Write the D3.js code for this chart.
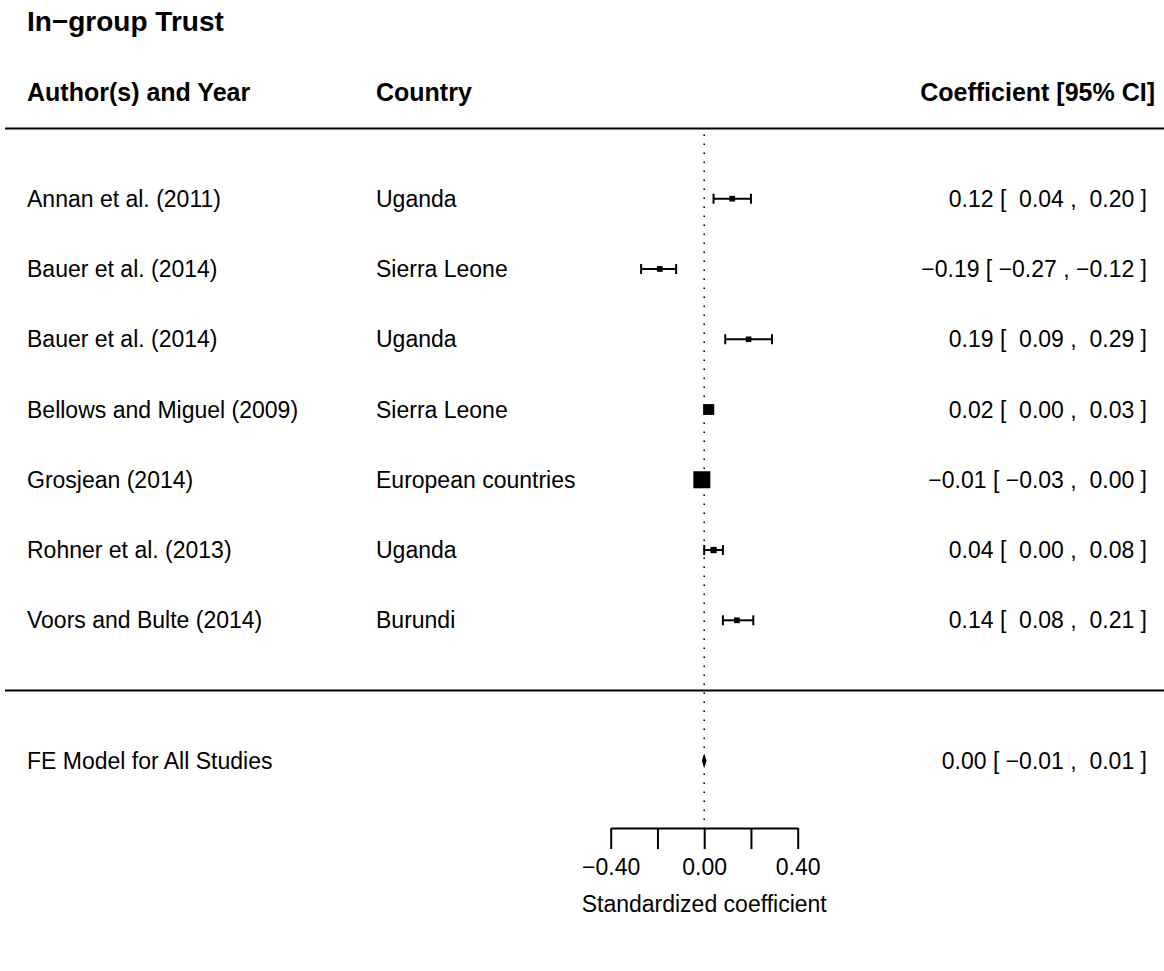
<!DOCTYPE html>
<html lang="en">
<head>
    <meta charset="UTF-8">
    <title>In-group Trust forest plot</title>
    <script src="https://d3js.org/d3.v7.min.js"></script>
    <style>
        body { margin: 0; background: #fff; }
        text { font-family: "Liberation Sans", Arial, Helvetica, sans-serif; fill: #000; white-space: pre; }
    </style>
</head>
<body>
    <svg width="1164" height="971"></svg>
    <script>
        // Study data
        const studies = ["Annan et al. (2011)", "Bauer et al. (2014)", "Bauer et al. (2014)",
            "Bellows and Miguel (2009)", "Grosjean (2014)", "Rohner et al. (2013)", "Voors and Bulte (2014)"];
        const countries = ["Uganda", "Sierra Leone", "Uganda", "Sierra Leone",
            "European countries", "Uganda", "Burundi"];
        const estimates = [0.12, -0.19, 0.19, 0.02, -0.01, 0.04, 0.14];
        const lower = [0.04, -0.27, 0.09, 0.00, -0.03, 0.00, 0.08];
        const upper = [0.20, -0.12, 0.29, 0.03, 0.00, 0.08, 0.21];
        // relative weights (%)
        const weights = [2, 2, 1, 28, 60, 5, 2];

        // Fixed-effect summary
        const summaryLabel = "FE Model for All Studies";
        const summary = { est: 0.00, lo: -0.01, hi: 0.01 };

        const tickValues = [-0.4, -0.2, 0, 0.2, 0.4];
        const tickLabels = ["\u22120.40", "", "0.00", "", "0.40"];

        const svg = d3.select("svg");
        const W = 1164;

        const x = d3.scaleLinear().domain([-0.4, 0.4]).range([610.7, 797.7]);
        // rows numbered like metafor: first study at top = k, last = 1
        const k = studies.length;
        const y = d3.scaleLinear().domain([1, k]).range([620.3, 198.7]);
        const size = d3.scaleLinear().domain(d3.extent(weights)).range([5.5, 17]);

        const minus = v => (v < 0 ? "\u2212" : "") + Math.abs(v).toFixed(2);
        const pad = v => (v < 0 ? "" : " ") + minus(v);
        const ciText = (e, l, h) => `${minus(e)} [ ${pad(l)} , ${pad(h)} ]`;

        // title and headers
        svg.append("text").attr("x", 27).attr("y", 31)
            .style("font-size", "28px").style("font-weight", "bold").text("In\u2212group Trust");
        const head = svg.append("g").style("font-size", "25px").style("font-weight", "bold");
        head.append("text").attr("x", 27).attr("y", 101).text("Author(s) and Year");
        head.append("text").attr("x", 376).attr("y", 101).text("Country");
        head.append("text").attr("x", 1155).attr("y", 101).attr("text-anchor", "end").text("Coefficient [95% CI]");

        // horizontal rules
        [k + 1, 0].forEach(r => {
            svg.append("line").attr("x1", 5).attr("x2", W)
                .attr("y1", y(r)).attr("y2", y(r))
                .attr("stroke", "#000").attr("stroke-width", 2);
        });

        const axisY = 828;

        // reference line at zero
        svg.append("line")
            .attr("x1", x(0)).attr("x2", x(0))
            .attr("y1", y(k + 1) + 6).attr("y2", axisY)
            .attr("stroke", "#000").attr("stroke-width", 1.6)
            .attr("stroke-dasharray", "1.6 7.4");

        // study rows
        const rows = svg.append("g").selectAll("g")
            .data(studies.map((s, i) => ({ s, c: countries[i], e: estimates[i], l: lower[i], h: upper[i], w: weights[i], r: k - i })))
            .join("g")
            .attr("transform", d => `translate(0,${y(d.r)})`);

        rows.append("text").attr("x", 27).attr("y", 8).style("font-size", "23px").text(d => d.s);
        rows.append("text").attr("x", 376).attr("y", 8).style("font-size", "23px").text(d => d.c);
        rows.append("text").attr("x", 1147).attr("y", 8).attr("text-anchor", "end")
            .style("font-size", "23px").text(d => ciText(d.e, d.l, d.h));

        rows.append("line").attr("x1", d => x(d.l)).attr("x2", d => x(d.h))
            .attr("stroke", "#000").attr("stroke-width", 2);
        rows.append("line").attr("x1", d => x(d.l)).attr("x2", d => x(d.l)).attr("y1", -5).attr("y2", 5)
            .attr("stroke", "#000").attr("stroke-width", 2);
        rows.append("line").attr("x1", d => x(d.h)).attr("x2", d => x(d.h)).attr("y1", -5).attr("y2", 5)
            .attr("stroke", "#000").attr("stroke-width", 2);
        rows.append("rect")
            .attr("x", d => x(d.e) - size(d.w) / 2).attr("y", d => -size(d.w) / 2)
            .attr("width", d => size(d.w)).attr("height", d => size(d.w))
            .attr("fill", "#000");

        // summary row
        const sy = y(-1);
        svg.append("text").attr("x", 27).attr("y", sy + 8).style("font-size", "23px").text(summaryLabel);
        svg.append("text").attr("x", 1147).attr("y", sy + 8).attr("text-anchor", "end")
            .style("font-size", "23px").text(ciText(summary.est, summary.lo, summary.hi));
        svg.append("polygon")
            .attr("points", [[x(summary.lo), sy], [x(summary.est), sy - 7.3], [x(summary.hi), sy], [x(summary.est), sy + 7.3]].join(" "))
            .attr("fill", "#000");

        // axis
        const axis = d3.axisBottom(x).tickValues(tickValues)
            .tickFormat((d, i) => tickLabels[i]).tickSize(21).tickSizeOuter(0).tickPadding(10);
        const ax = svg.append("g").attr("transform", `translate(0,${axisY})`).call(axis);
        ax.select(".domain").attr("stroke-width", 2);
        ax.selectAll(".tick line").attr("stroke-width", 2);
        ax.selectAll(".tick text").style("font-size", "23px")
            .style("font-family", "'Liberation Sans', Arial, sans-serif");

        svg.append("text").attr("x", x(0)).attr("y", 912).attr("text-anchor", "middle")
            .style("font-size", "23px").text("Standardized coefficient");
    </script>
</body>
</html>
